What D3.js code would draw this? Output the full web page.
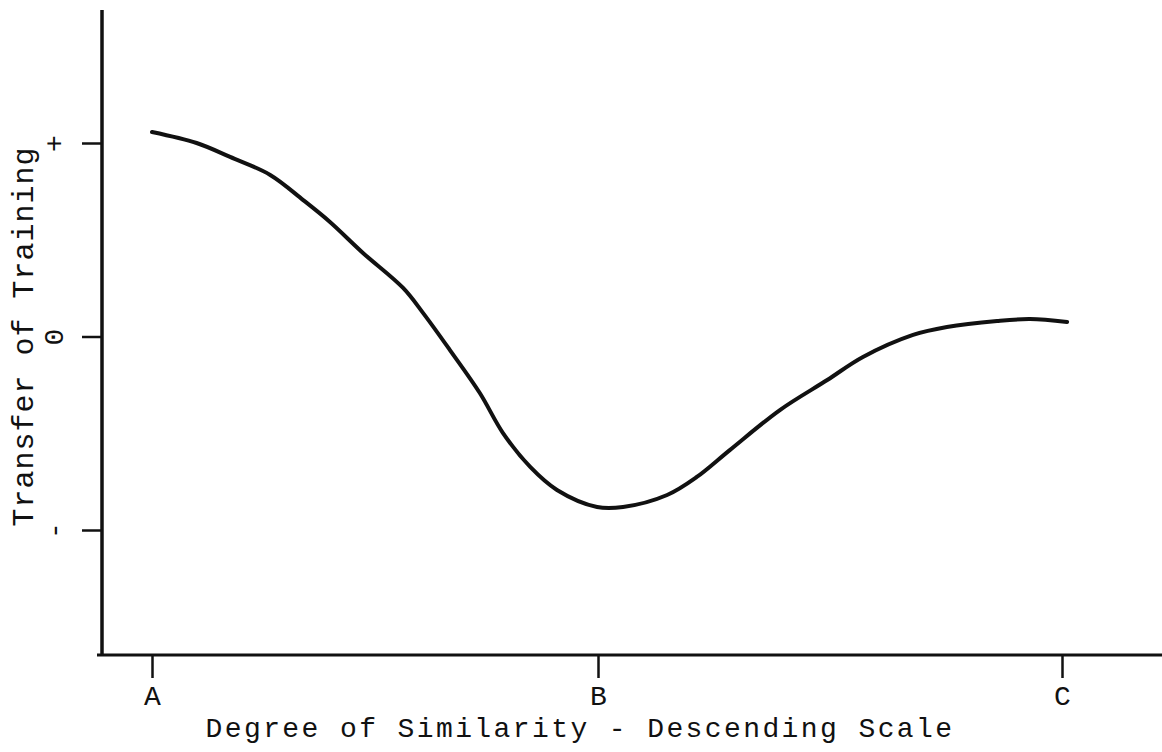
<!DOCTYPE html>
<html>
<head>
<meta charset="utf-8">
<script src="https://cdn.jsdelivr.net/npm/d3@7"></script>
<style>
  body { margin: 0; background: #fff; }
  text { font-family: "Liberation Mono", "Courier New", monospace; fill: #111; }
</style>
</head>
<body>
<div id="chart"></div>
<script>
// Labels and ticks
var xTicks = [0, 1, 2]
var xTickLabels = ["A", "B", "C"]
var yTicks = [-1, 0, 1]
var yTickLabels = ["-", "0", "+"]

// Curve (x: A=0, B=1, C=2 ; y: - = -1, 0, + = 1)
var curveX = [0.0, 0.10, 0.175, 0.265, 0.339, 0.399, 0.473, 0.563, 0.608, 0.668, 0.735, 0.787, 0.848, 0.908, 0.998, 1.054,
    1.149, 1.213, 1.284, 1.392, 1.494, 1.571, 1.679, 1.752, 1.860, 1.931, 2.011]
var curveY = [1.057, 1.0, 0.928, 0.835, 0.705, 0.592, 0.432, 0.251, 0.121, -0.070, -0.292, -0.499, -0.674, -0.793, -0.881, -0.881,
    -0.819, -0.726, -0.587, -0.380, -0.225, -0.106, 0.008, 0.049, 0.080, 0.090, 0.075]

var width = 1162, height = 752

var svg = d3.select("#chart")
    .append("svg")
    .attr("width", width)
    .attr("height", height)

// scales (the hand drawn ticks are not evenly spaced)
var x = d3.scaleLinear()
    .domain([0, 1, 2])
    .range([152, 598, 1062])

var y = d3.scaleLinear()
    .domain([-1, 1])
    .range([530, 143])

var axisY = 655, axisX = 102

// X axis
var gx = svg.append("g")
    .attr("transform", "translate(0," + axisY + ")")
    .call(d3.axisBottom(x).tickValues(xTicks).tickSize(23).tickSizeOuter(0)
        .tickFormat(function (d, i) { return xTickLabels[i] }))
gx.select(".domain").remove()
gx.selectAll(".tick line").attr("stroke", "#111").attr("stroke-width", 2.5)
gx.selectAll(".tick text")
    .attr("y", 50)
    .attr("dy", 0)
    .style("font-size", "28px")

svg.append("line")
    .attr("x1", 97).attr("x2", width)
    .attr("y1", axisY).attr("y2", axisY)
    .attr("stroke", "#111").attr("stroke-width", 3)

// Y axis
var gy = svg.append("g")
    .attr("transform", "translate(" + axisX + ",0)")
    .call(d3.axisLeft(y).tickValues(yTicks).tickSize(20).tickSizeOuter(0)
        .tickFormat(function (d, i) { return yTickLabels[i] }))
gy.select(".domain").remove()
gy.selectAll(".tick line").attr("stroke", "#111").attr("stroke-width", 2.5)
gy.selectAll(".tick text")
    .attr("x", null)
    .attr("dy", null)
    .attr("text-anchor", "middle")
    .attr("transform", "translate(-49,0) rotate(-90)")
    .attr("dy", "0.35em")
    .style("font-size", "28px")

svg.append("line")
    .attr("x1", axisX).attr("x2", axisX)
    .attr("y1", 10).attr("y2", axisY + 1)
    .attr("stroke", "#111").attr("stroke-width", 3.5)

// the curve
var line = d3.line()
    .x(function (d) { return x(d[0]) })
    .y(function (d) { return y(d[1]) })
    .curve(d3.curveCatmullRom)

svg.append("path")
    .datum(d3.zip(curveX, curveY))
    .attr("d", line)
    .attr("fill", "none")
    .attr("stroke", "#111")
    .attr("stroke-width", 4)
    .attr("stroke-linecap", "round")

// titles
svg.append("text")
    .attr("x", 580)
    .attr("y", 737)
    .attr("text-anchor", "middle")
    .style("font-size", "28px")
    .style("letter-spacing", "2.4px")
    .text("Degree of Similarity - Descending Scale")

svg.append("text")
    .attr("transform", "translate(33," + y(0) + ") rotate(-90)")
    .attr("text-anchor", "middle")
    .style("font-size", "30px")
    .style("letter-spacing", "1px")
    .text("Transfer of Training")
</script>
</body>
</html>
